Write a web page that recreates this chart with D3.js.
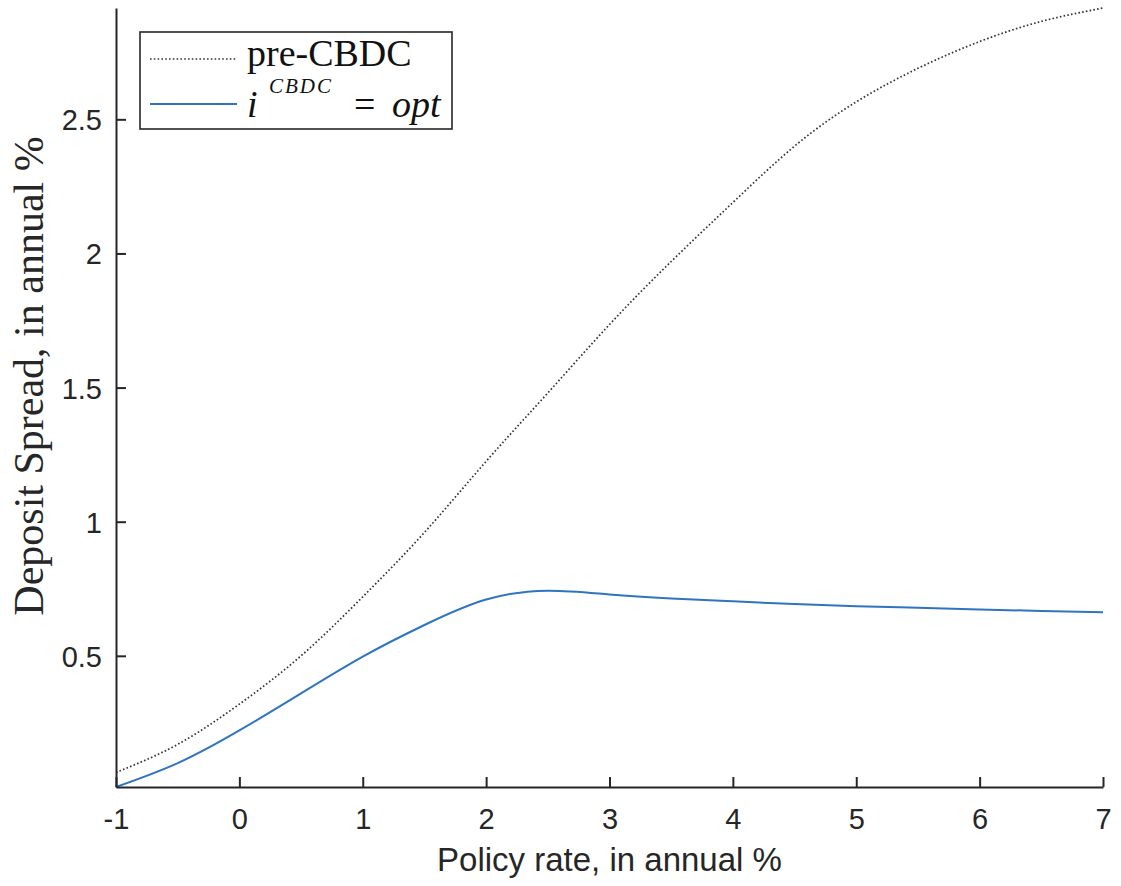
<!DOCTYPE html>
<html>
<head>
<meta charset="utf-8">
<script src="https://cdn.jsdelivr.net/npm/d3@7"></script>
<style>
  html, body { margin: 0; padding: 0; background: #fff; }
  svg { display: block; }
</style>
</head>
<body>
<div id="chart"></div>
<script>
// ---- data ----
const policyRate = [-1, -0.5, 0, 0.5, 1, 1.5, 2, 2.5, 3, 3.5, 4, 4.5, 5, 5.5, 6, 6.5, 7];
const preCBDC    = [0.065, 0.17, 0.32, 0.50, 0.72, 0.96, 1.225, 1.48, 1.735, 1.97, 2.19, 2.40, 2.565, 2.69, 2.79, 2.865, 2.915];
const optCBDC    = [0.011, 0.10, 0.222, 0.36, 0.497, 0.615, 0.71, 0.743, 0.729, 0.714, 0.703, 0.693, 0.685, 0.679, 0.673, 0.667, 0.662];
const xTicks = [-1, 0, 1, 2, 3, 4, 5, 6, 7];
const yTicks = [0.5, 1, 1.5, 2, 2.5];
const xTickLabels = ["-1", "0", "1", "2", "3", "4", "5", "6", "7"];
const yTickLabels = ["0.5", "1", "1.5", "2", "2.5"];
const xLabel = "Policy rate, in annual %";
const yLabel = "Deposit Spread, in annual %";

// ---- layout ----
const W = 1121, H = 886;
const mLeft = 116, mRight = 1103, mTop = 8, mBottom = 787;
const axisColor = "#262626";

const svg = d3.select("#chart").append("svg").attr("width", W).attr("height", H);

const x = d3.scaleLinear().domain([-1, 7]).range([mLeft, mRight]);
const yExt = d3.extent(preCBDC.concat(optCBDC));
const y = d3.scaleLinear().domain(yExt).range([mBottom, mTop]);

// lines
const line = d3.line().x(d => x(d[0])).y(d => y(d[1])).curve(d3.curveNatural);
svg.append("path")
  .datum(policyRate.map((r, i) => [r, preCBDC[i]]))
  .attr("d", line)
  .attr("fill", "none")
  .attr("stroke", "#333")
  .attr("stroke-width", 1.7)
  .attr("stroke-dasharray", "1.6,2.2");
svg.append("path")
  .datum(policyRate.map((r, i) => [r, optCBDC[i]]))
  .attr("d", line)
  .attr("fill", "none")
  .attr("stroke", "#2f74c0")
  .attr("stroke-width", 2);

// axes
const xAxis = d3.axisBottom(x).tickValues(xTicks).tickFormat((d, i) => xTickLabels[i]).tickSizeInner(-10).tickSizeOuter(0).tickPadding(21);
const gx = svg.append("g").attr("transform", `translate(0,${mBottom})`).call(xAxis);
const yAxis = d3.axisLeft(y).tickValues(yTicks).tickFormat((d, i) => yTickLabels[i]).tickSizeInner(-10).tickSizeOuter(0).tickPadding(14);
const gy = svg.append("g").attr("transform", `translate(${mLeft},0)`).call(yAxis);

[gx, gy].forEach(g => {
  g.select(".domain").attr("stroke", axisColor).attr("stroke-width", 2);
  g.selectAll(".tick line").attr("stroke", axisColor).attr("stroke-width", 2);
  g.selectAll(".tick text")
    .attr("fill", axisColor)
    .attr("font-family", "'Liberation Sans', Arial, sans-serif")
    .attr("font-size", 29);
});
gx.selectAll(".tick text").attr("dy", "0.71em");
gy.selectAll(".tick text").attr("dy", "0.36em");

// axis labels
svg.append("text")
  .attr("x", (mLeft + mRight) / 2).attr("y", 871)
  .attr("text-anchor", "middle")
  .attr("font-family", "'Liberation Sans', Arial, sans-serif")
  .attr("font-size", 33)
  .attr("fill", axisColor)
  .text(xLabel);

svg.append("text")
  .attr("transform", `translate(43,376) rotate(-90)`)
  .attr("text-anchor", "middle")
  .attr("font-family", "'Liberation Serif', 'Times New Roman', serif")
  .attr("font-size", 42)
  .attr("fill", axisColor)
  .text(yLabel);

// legend
const serif = "'Liberation Serif', 'Times New Roman', serif";
const lg = svg.append("g");
lg.append("rect").attr("x", 140).attr("y", 32).attr("width", 312).attr("height", 97)
  .attr("fill", "#fff").attr("stroke", axisColor).attr("stroke-width", 1.6);
lg.append("line").attr("x1", 150).attr("x2", 237).attr("y1", 59).attr("y2", 59)
  .attr("stroke", "#333").attr("stroke-width", 1.7).attr("stroke-dasharray", "1.6,2.2");
lg.append("line").attr("x1", 150).attr("x2", 237).attr("y1", 104).attr("y2", 104)
  .attr("stroke", "#2f74c0").attr("stroke-width", 2);
lg.append("text").attr("x", 247).attr("y", 66)
  .attr("font-family", serif)
  .attr("font-size", 38).attr("fill", "#111")
  .text("pre-CBDC");
lg.append("text").attr("x", 247).attr("y", 117)
  .attr("font-family", serif).attr("font-size", 38).attr("font-style", "italic").attr("fill", "#111")
  .text("i");
lg.append("text").attr("x", 269).attr("y", 93)
  .attr("font-family", serif).attr("font-size", 21).attr("font-style", "italic").attr("fill", "#111")
  .attr("letter-spacing", 2)
  .text("CBDC");
const t3 = lg.append("text").attr("y", 117)
  .attr("font-family", serif).attr("font-size", 38).attr("fill", "#111");
t3.append("tspan").attr("x", 354).text("=");
t3.append("tspan").attr("x", 392).attr("font-style", "italic").text("opt");
</script>
</body>
</html>
